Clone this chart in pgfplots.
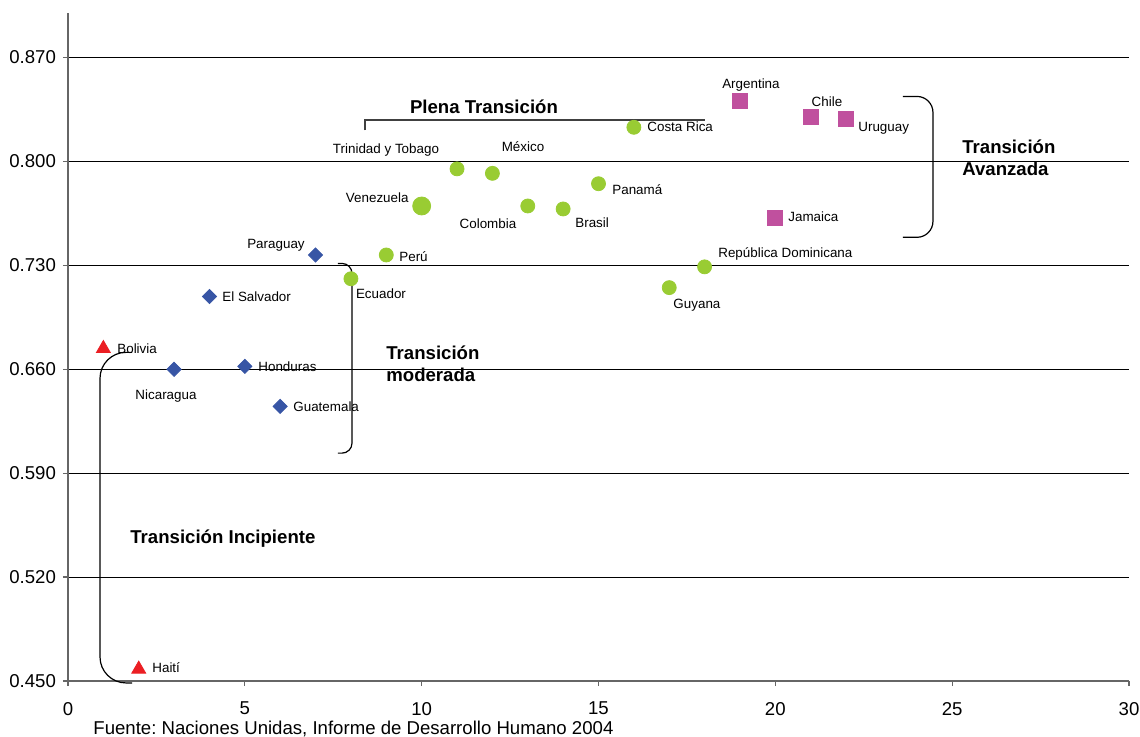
\documentclass[border=0pt]{standalone}
\usepackage{fontspec}
\setmainfont{Liberation Sans}
\usepackage{pgfplots}
\pgfplotsset{compat=1.18}
\definecolor{tri}{RGB}{235,30,35}
\definecolor{dia}{RGB}{55,85,165}
\definecolor{cir}{RGB}{153,204,51}
\definecolor{sq}{RGB}{192,80,158}
\frenchspacing
\begin{document}
\begin{tikzpicture}[
  lab/.style={font=\fontsize{6.7}{8}\selectfont, inner sep=0pt},
  bl/.style={font=\bfseries\fontsize{9.3}{11}\selectfont, inner sep=0pt, align=left}]
\useasboundingbox (-34pt,-27.5pt) rectangle (536pt,340.5pt);
\begin{axis}[
  at={(0,0)}, anchor=south west,
  scale only axis, width=530.5pt, height=334pt,
  xmin=0, xmax=30, ymin=0.45, ymax=0.90,
  xtick={0,5,...,30},
  ytick={0.45,0.52,0.59,0.66,0.73,0.80,0.87},
  yticklabel style={/pgf/number format/.cd,fixed,fixed zerofill,precision=3},
  xticklabel style={yshift=-4.5pt},
  axis x line*=bottom, axis y line*=left,
  axis line style={gray!80!black, line width=0.6pt},
  ymajorgrids, major grid style={black, line width=0.5pt},
  tick style={gray!80!black, line width=0.6pt}, tick align=outside, major tick length=2.5pt,
  ticklabel style={font=\fontsize{9.3}{11}\selectfont},
  /pgf/number format/assume math mode=true,
  clip=false,
]
% Transición incipiente
\addplot[only marks, mark=triangle*, mark size=4pt, color=tri] coordinates {
  (1,0.674) (2,0.458)};
% Transición moderada
\addplot[only marks, mark=square*, mark size=2.5pt, color=dia, mark options={rotate=45}] coordinates {
  (3,0.660) (4,0.709) (5,0.662) (6,0.635) (7,0.737)};
% Plena transición
\addplot[only marks, mark=*, mark size=3.5pt, color=cir] coordinates {
  (8,0.721) (9,0.737) (11,0.795) (12,0.792) (13,0.770) (14,0.768) (15,0.785)
  (16,0.823) (17,0.715) (18,0.729)};
\addplot[only marks, mark=*, mark size=4.5pt, color=cir] coordinates {(10,0.770)};
% Transición avanzada
\addplot[only marks, mark=square*, mark size=3.75pt, color=sq] coordinates {
  (19,0.841) (20,0.762) (21,0.830) (22,0.829)};

% country labels
\node[lab, anchor=west] at (axis cs:1.385,0.674) {Bolivia};
\node[lab, anchor=west] at (axis cs:2.375,0.459) {Haití};
\node[lab] at (axis cs:2.771,0.6418) {Nicaragua};
\node[lab, anchor=west] at (axis cs:4.354,0.709) {El Salvador};
\node[lab, anchor=west] at (axis cs:5.372,0.662) {Honduras};
\node[lab, anchor=west] at (axis cs:6.362,0.635) {Guatemala};
\node[lab] at (axis cs:5.881,0.7435) {Paraguay};
\node[lab] at (axis cs:8.85,0.7106) {Ecuador};
\node[lab, anchor=west] at (axis cs:9.359,0.736) {Perú};
\node[lab, anchor=east] at (axis cs:9.641,0.7758) {Venezuela};
\node[lab] at (axis cs:8.991,0.8074) {Trinidad y Tobago};
\node[lab] at (axis cs:12.865,0.8101) {México};
\node[lab] at (axis cs:11.875,0.7583) {Colombia};
\node[lab, anchor=west] at (axis cs:14.335,0.7590) {Brasil};
\node[lab, anchor=west] at (axis cs:15.381,0.7812) {Panamá};
\node[lab, anchor=west] at (axis cs:16.371,0.8236) {Costa Rica};
\node[lab] at (axis cs:17.784,0.7031) {Guyana};
\node[lab, anchor=west] at (axis cs:18.378,0.7375) {República Dominicana};
\node[lab] at (axis cs:19.311,0.8518) {Argentina};
\node[lab] at (axis cs:21.46,0.8404) {Chile};
\node[lab, anchor=west] at (axis cs:22.337,0.8222) {Uruguay};
\node[lab, anchor=west] at (axis cs:20.357,0.7625) {Jamaica};

% group labels
\node[bl] at (axis cs:11.762,0.837) {Plena Transición};
\node[bl, anchor=west] at (axis cs:25.277,0.8024) {Transición\\Avanzada};
\node[bl, anchor=west] at (axis cs:8.991,0.6637) {Transición\\moderada};
\node[bl, anchor=west] at (axis cs:1.753,0.5456) {Transición Incipiente};

% brackets
\draw[black!75, line width=1pt] (axis cs:8.397,0.8209) -- (axis cs:8.397,0.8276) -- (axis cs:18.011,0.8276);
\draw[black, line width=0.6pt, rounded corners=8pt] (axis cs:23.609,0.8438) -- (axis cs:24.457,0.8438) -- (axis cs:24.457,0.7489) -- (axis cs:23.609,0.7489);
\draw[black, line width=0.6pt, rounded corners=5pt] (axis cs:7.634,0.7313) -- (axis cs:8.03,0.7313) -- (axis cs:8.03,0.6035) -- (axis cs:7.634,0.6035);
\draw[black, line width=0.6pt, rounded corners=13pt] (axis cs:1.81,0.6714) -- (axis cs:0.905,0.6714) -- (axis cs:0.905,0.4487) -- (axis cs:1.81,0.4487);
\end{axis}
\node[anchor=west, inner sep=0pt, font=\fontsize{9.3}{11}\selectfont] at (12.5pt,-24pt) {Fuente: Naciones Unidas, Informe de Desarrollo Humano 2004};
\end{tikzpicture}
\end{document}
